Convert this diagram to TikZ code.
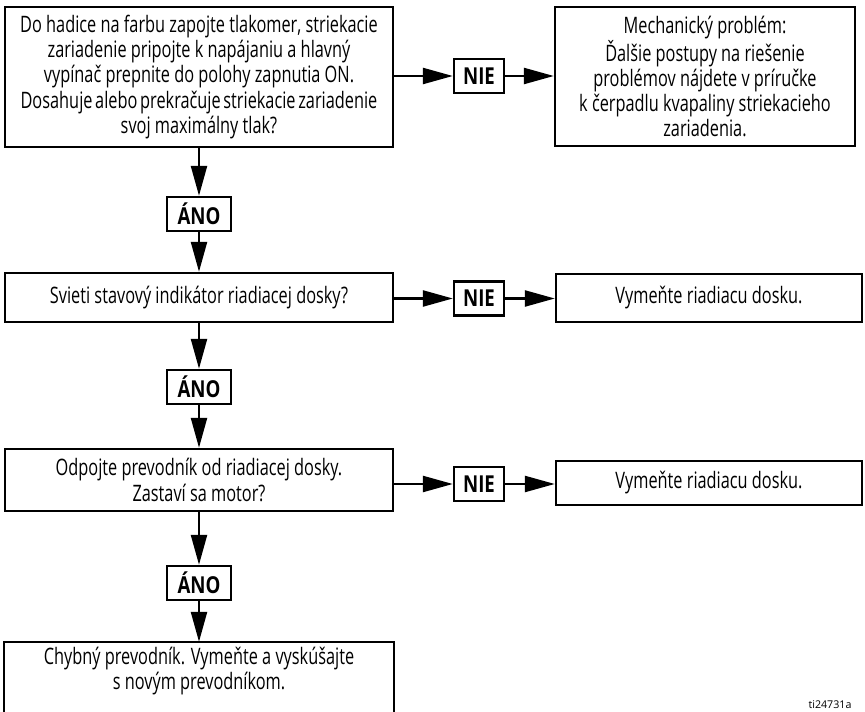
\documentclass[tikz,border=0pt]{standalone}
\usepackage{fontspec}
\setmainfont{Open Sans}[FakeStretch=0.72,BoldFeatures={FakeStretch=0.8}]
\newfontfamily\plainfont{Open Sans}
\usetikzlibrary{arrows.meta}
\newcommand\tightline[1]{{\spaceskip=0.12em\relax #1}}

\begin{document}
\begin{tikzpicture}[x=0.75pt,y=-0.75pt,line width=1.8pt,
  box/.style n args={2}{draw,rectangle,inner sep=0pt,minimum width=#1*0.75pt,minimum height=#2*0.75pt,align=center,font=\fontsize{17}{18.8}\selectfont},
  tag/.style n args={2}{draw,rectangle,inner sep=0pt,minimum width=#1*0.75pt,minimum height=#2*0.75pt,font=\fontsize{17.5}{18.8}\selectfont\bfseries},
  flow/.style={-{Triangle[length=22.5pt,width=12pt]}}]
\clip (0,0) rectangle (865,712);
% questions on the left
\node[box={388}{140}] (q1) at (199,77) {Do hadice na farbu zapojte tlakomer, striekacie\\
   zariadenie pripojte k napájaniu a hlavný\\
   vypínač prepnite do polohy zapnutia ON.\\
   \tightline{Dosahuje alebo prekračuje striekacie zariadenie}\\
   svoj maximálny tlak?};
\node[box={388}{49}] (q2) at (199,297.5) {Svieti stavový indikátor riadiacej dosky?};
\node[box={388}{62}] (q3) at (199,480) {Odpojte prevodník od riadiacej dosky.\\Zastaví sa motor?};
\node[box={388}{56},draw=none] (q4) at (199,671) {Chybný prevodník. Vymeňte a vyskúšajte\\s novým prevodníkom.};
\draw ([yshift=-60pt]q4.south west) -- (q4.north west) -- (q4.north east) -- ([yshift=-60pt]q4.south east);
% answers on the right
\node[box={300}{139}] (m1) at (705,76.5) {Mechanický problém:\\Ďalšie postupy na riešenie\\problémov nájdete v príručke\\k čerpadlu kvapaliny striekacieho\\zariadenia.};
\node[box={306}{48}] (r2) at (709,298) {Vymeňte riadiacu dosku.};
\node[box={306}{44}] (r3) at (709,483) {Vymeňte riadiacu dosku.};
% yes / no tags
\foreach \n/\y in {n1/76,n2/298.5,n3/484} {
   \node[tag={50}{34}] (\n) at (479,\y) {NIE};
}
\foreach \a/\y in {a1/214,a2/387,a3/583} {
   \node[tag={64}{34}] (\a) at (199,\y) {ÁNO};
}
% connectors
\draw[flow] (q1.east |- n1) -- (n1.west);
\draw[flow] (n1.east) -- (m1.west |- n1);
\draw[flow] (q2.east |- n2) -- (n2.west);
\draw[flow] (n2.east) -- (r2.west |- n2);
\draw[flow] (q3.east |- n3) -- (n3.west);
\draw[flow] (n3.east) -- (r3.west |- n3);
\draw[flow] (q1.south) -- (a1.north);
\draw[flow] (a1.south) -- (q2.north);
\draw[flow] (q2.south) -- (a2.north);
\draw[flow] (a2.south) -- (q3.north);
\draw[flow] (q3.south) -- (a3.north);
\draw[flow] (a3.south) -- (q4.north);
\node[font=\plainfont\fontsize{8}{9}\selectfont] (ref) at (830,705) {ti24731a};
\end{tikzpicture}
\end{document}
